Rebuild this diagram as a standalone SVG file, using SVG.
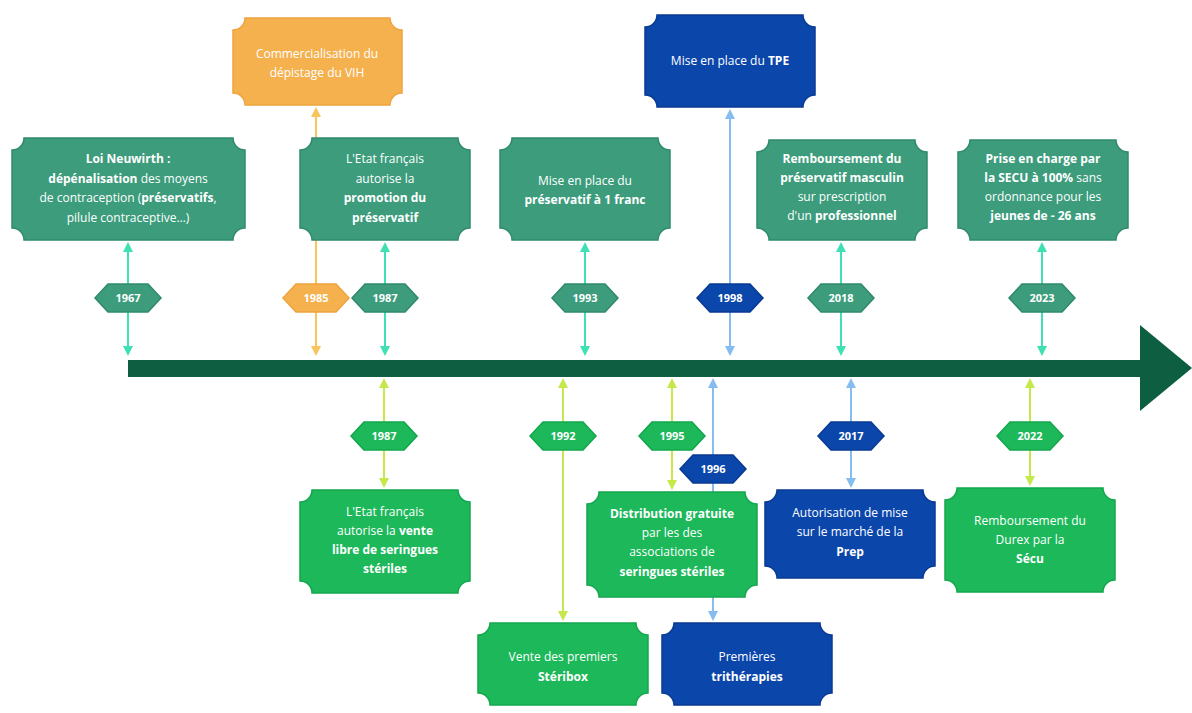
<svg xmlns="http://www.w3.org/2000/svg" width="1192" height="713" viewBox="0 0 1192 713">
<defs>
<style>
text{font-family:"Open Sans","Liberation Sans",sans-serif;fill:#fff;font-size:12px;text-anchor:middle}
.b{font-weight:700}
.yr{font-size:11px;font-weight:700}
.dg{fill:#3c9c7c;stroke:#2f8a6b;stroke-width:1.5}
.or{fill:#f6b14f;stroke:#eda43d;stroke-width:1.5}
.bg{fill:#1cb85a;stroke:#14a64d;stroke-width:1.5}
.bl{fill:#0b46ab;stroke:#083a93;stroke-width:1.5}
.c{fill:none;stroke-width:2}
.ct{stroke:#3fe0b4}
.co{stroke:#f8c55a}
.cb{stroke:#86bdf0}
.cy{stroke:#c5e84c}
</style>
<marker id="at" viewBox="0 0 10 10" refX="8" refY="5" markerWidth="5" markerHeight="5" orient="auto"><path d="M0,0L10,5L0,10z" fill="#3fe0b4"/></marker>
<marker id="ao" viewBox="0 0 10 10" refX="8" refY="5" markerWidth="5" markerHeight="5" orient="auto"><path d="M0,0L10,5L0,10z" fill="#f8c55a"/></marker>
<marker id="ab" viewBox="0 0 10 10" refX="8" refY="5" markerWidth="5" markerHeight="5" orient="auto"><path d="M0,0L10,5L0,10z" fill="#86bdf0"/></marker>
<marker id="ay" viewBox="0 0 10 10" refX="8" refY="5" markerWidth="5" markerHeight="5" orient="auto"><path d="M0,0L10,5L0,10z" fill="#c5e84c"/></marker>
</defs>
<rect width="1192" height="713" fill="#fff"/>

<g id="connectors">
<!-- top -->
<path class="c ct" d="M128,284V244" marker-end="url(#at)"/>
<path class="c ct" d="M128,312V354" marker-end="url(#at)"/>
<path class="c co" d="M316,284V109" marker-end="url(#ao)"/>
<path class="c co" d="M316,312V354" marker-end="url(#ao)"/>
<path class="c ct" d="M385,284V244" marker-end="url(#at)"/>
<path class="c ct" d="M385,312V354" marker-end="url(#at)"/>
<path class="c ct" d="M585,284V244" marker-end="url(#at)"/>
<path class="c ct" d="M585,312V354" marker-end="url(#at)"/>
<path class="c cb" d="M730,284V111" marker-end="url(#ab)"/>
<path class="c cb" d="M730,312V354" marker-end="url(#ab)"/>
<path class="c ct" d="M841,284V244" marker-end="url(#at)"/>
<path class="c ct" d="M841,312V354" marker-end="url(#at)"/>
<path class="c ct" d="M1042,284V244" marker-end="url(#at)"/>
<path class="c ct" d="M1042,312V354" marker-end="url(#at)"/>
<!-- bottom -->
<path class="c cy" d="M384,422V380" marker-end="url(#ay)"/>
<path class="c cy" d="M384,450V486" marker-end="url(#ay)"/>
<path class="c cy" d="M563,422V380" marker-end="url(#ay)"/>
<path class="c cy" d="M563,450V619" marker-end="url(#ay)"/>
<path class="c cy" d="M672,422V380" marker-end="url(#ay)"/>
<path class="c cy" d="M672,450V488" marker-end="url(#ay)"/>
<path class="c cb" d="M713,455V380" marker-end="url(#ab)"/>
<path class="c cb" d="M713,483V619" marker-end="url(#ab)"/>
<path class="c cb" d="M851,422V380" marker-end="url(#ab)"/>
<path class="c cb" d="M851,450V486" marker-end="url(#ab)"/>
<path class="c cy" d="M1030,422V380" marker-end="url(#ay)"/>
<path class="c cy" d="M1030,450V484" marker-end="url(#ay)"/>
</g>

<g id="timeline">
<rect x="128" y="360" width="1016" height="17" fill="#0e5e41"/>
<path d="M1140,325L1192,368L1140,411Z" fill="#0e5e41"/>
</g>

<!-- top nodes -->
<g id="n1967">
<path class="dg" d="M24,138H233A12,12 0 0 0 245,150V228A12,12 0 0 0 233,240H24A12,12 0 0 0 12,228V150A12,12 0 0 0 24,138Z"/>
<text x="128" y="163"><tspan class="b">Loi Neuwirth :</tspan></text>
<text x="128" y="183"><tspan class="b">dépénalisation</tspan> des moyens</text>
<text x="128" y="202">de contraception (<tspan class="b">préservatifs</tspan>,</text>
<text x="128" y="222">pilule contraceptive…)</text>
</g>
<g id="y1967"><path class="dg" d="M95,298L108,284H148L161,298L148,312H108Z"/><text class="yr" x="128" y="302">1967</text></g>

<g id="n1985">
<path class="or" d="M245,18H390A12,12 0 0 0 402,30V93A12,12 0 0 0 390,105H245A12,12 0 0 0 233,93V30A12,12 0 0 0 245,18Z"/>
<text x="317" y="58">Commercialisation du</text>
<text x="317" y="77">dépistage du VIH</text>
</g>
<g id="y1985"><path class="or" d="M283,298L296,284H336L349,298L336,312H296Z"/><text class="yr" x="316" y="302">1985</text></g>

<g id="n1987a">
<path class="dg" d="M312,138H458A12,12 0 0 0 470,150V228A12,12 0 0 0 458,240H312A12,12 0 0 0 300,228V150A12,12 0 0 0 312,138Z"/>
<text x="385" y="163">L'Etat français</text>
<text x="385" y="183">autorise la</text>
<text x="385" y="202"><tspan class="b">promotion du</tspan></text>
<text x="385" y="222"><tspan class="b">préservatif</tspan></text>
</g>
<g id="y1987a"><path class="dg" d="M352,298L365,284H405L418,298L405,312H365Z"/><text class="yr" x="385" y="302">1987</text></g>

<g id="n1993">
<path class="dg" d="M512,138H658A12,12 0 0 0 670,150V228A12,12 0 0 0 658,240H512A12,12 0 0 0 500,228V150A12,12 0 0 0 512,138Z"/>
<text x="585" y="185">Mise en place du</text>
<text x="585" y="204"><tspan class="b">préservatif à 1 franc</tspan></text>
</g>
<g id="y1993"><path class="dg" d="M552,298L565,284H605L618,298L605,312H565Z"/><text class="yr" x="585" y="302">1993</text></g>

<g id="n1998">
<path class="bl" d="M657,15H803A12,12 0 0 0 815,27V95A12,12 0 0 0 803,107H657A12,12 0 0 0 645,95V27A12,12 0 0 0 657,15Z"/>
<text x="730" y="65">Mise en place du <tspan class="b">TPE</tspan></text>
</g>
<g id="y1998"><path class="bl" d="M697,298L710,284H750L763,298L750,312H710Z"/><text class="yr" x="730" y="302">1998</text></g>

<g id="n2018">
<path class="dg" d="M769,140H915A12,12 0 0 0 927,152V228A12,12 0 0 0 915,240H769A12,12 0 0 0 757,228V152A12,12 0 0 0 769,140Z"/>
<text x="842" y="163"><tspan class="b">Remboursement du</tspan></text>
<text x="842" y="182"><tspan class="b">préservatif masculin</tspan></text>
<text x="842" y="201">sur prescription</text>
<text x="842" y="220">d'un <tspan class="b">professionnel</tspan></text>
</g>
<g id="y2018"><path class="dg" d="M808,298L821,284H861L874,298L861,312H821Z"/><text class="yr" x="841" y="302">2018</text></g>

<g id="n2023">
<path class="dg" d="M970,140H1116A12,12 0 0 0 1128,152V228A12,12 0 0 0 1116,240H970A12,12 0 0 0 958,228V152A12,12 0 0 0 970,140Z"/>
<text x="1043" y="163"><tspan class="b">Prise en charge par</tspan></text>
<text x="1043" y="182"><tspan class="b">la SECU à 100%</tspan> sans</text>
<text x="1043" y="201">ordonnance pour les</text>
<text x="1043" y="220"><tspan class="b">jeunes de - 26 ans</tspan></text>
</g>
<g id="y2023"><path class="dg" d="M1009,298L1022,284H1062L1075,298L1062,312H1022Z"/><text class="yr" x="1042" y="302">2023</text></g>

<!-- bottom nodes -->
<g id="y1987b"><path class="bg" d="M351,436L364,422H404L417,436L404,450H364Z"/><text class="yr" x="384" y="440">1987</text></g>
<g id="n1987b">
<path class="bg" d="M312,490H458A12,12 0 0 0 470,502V581A12,12 0 0 0 458,593H312A12,12 0 0 0 300,581V502A12,12 0 0 0 312,490Z"/>
<text x="385" y="516">L'Etat français</text>
<text x="385" y="535">autorise la <tspan class="b">vente</tspan></text>
<text x="385" y="554"><tspan class="b">libre de seringues</tspan></text>
<text x="385" y="573"><tspan class="b">stériles</tspan></text>
</g>

<g id="y1992"><path class="bg" d="M530,436L543,422H583L596,436L583,450H543Z"/><text class="yr" x="563" y="440">1992</text></g>
<g id="n1992">
<path class="bg" d="M490,623H636A12,12 0 0 0 648,635V693A12,12 0 0 0 636,705H490A12,12 0 0 0 478,693V635A12,12 0 0 0 490,623Z"/>
<text x="563" y="661">Vente des premiers</text>
<text x="563" y="681"><tspan class="b">Stéribox</tspan></text>
</g>

<g id="y1995"><path class="bg" d="M639,436L652,422H692L705,436L692,450H652Z"/><text class="yr" x="672" y="440">1995</text></g>
<g id="n1995">
<path class="bg" d="M599,492H745A12,12 0 0 0 757,504V585A12,12 0 0 0 745,597H599A12,12 0 0 0 587,585V504A12,12 0 0 0 599,492Z"/>
<text x="672" y="518"><tspan class="b">Distribution gratuite</tspan></text>
<text x="672" y="537">par les des</text>
<text x="672" y="556">associations de</text>
<text x="672" y="576"><tspan class="b">seringues stériles</tspan></text>
</g>

<g id="y1996"><path class="bl" d="M680,469L693,455H733L746,469L733,483H693Z"/><text class="yr" x="713" y="473">1996</text></g>
<g id="n1996">
<path class="bl" d="M674,623H820A12,12 0 0 0 832,635V693A12,12 0 0 0 820,705H674A12,12 0 0 0 662,693V635A12,12 0 0 0 674,623Z"/>
<text x="747" y="661">Premières</text>
<text x="747" y="681"><tspan class="b">trithérapies</tspan></text>
</g>

<g id="y2017"><path class="bl" d="M818,436L831,422H871L884,436L871,450H831Z"/><text class="yr" x="851" y="440">2017</text></g>
<g id="n2017">
<path class="bl" d="M777,490H923A12,12 0 0 0 935,502V566A12,12 0 0 0 923,578H777A12,12 0 0 0 765,566V502A12,12 0 0 0 777,490Z"/>
<text x="850" y="517">Autorisation de mise</text>
<text x="850" y="536">sur le marché de la</text>
<text x="850" y="556"><tspan class="b">Prep</tspan></text>
</g>

<g id="y2022"><path class="bg" d="M997,436L1010,422H1050L1063,436L1050,450H1010Z"/><text class="yr" x="1030" y="440">2022</text></g>
<g id="n2022">
<path class="bg" d="M957,488H1103A12,12 0 0 0 1115,500V580A12,12 0 0 0 1103,592H957A12,12 0 0 0 945,580V500A12,12 0 0 0 957,488Z"/>
<text x="1030" y="525">Remboursement du</text>
<text x="1030" y="544">Durex par la</text>
<text x="1030" y="563"><tspan class="b">Sécu</tspan></text>
</g>
</svg>
